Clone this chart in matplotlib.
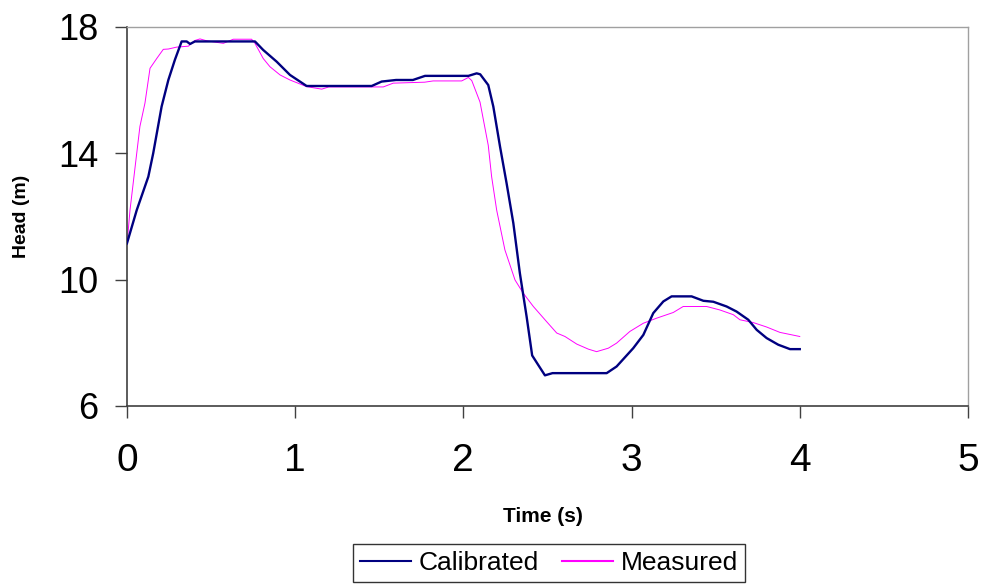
import numpy as np
import matplotlib.pyplot as plt

plt.rcParams['font.family'] = ['Liberation Sans', 'DejaVu Sans']

# Dane
calib_t = [0.0, 0.058, 0.127, 0.156, 0.206, 0.246, 0.285, 0.325, 0.355, 0.375, 0.404,
           0.761, 0.81, 0.89, 0.969, 1.068, 1.455, 1.514, 1.60, 1.70, 1.772, 2.03,
           2.079, 2.10, 2.148, 2.178, 2.218, 2.257, 2.297, 2.336, 2.376, 2.409,
           2.445, 2.485, 2.53, 2.852, 2.911, 3.01, 3.07, 3.129, 3.189, 3.238,
           3.357, 3.427, 3.486, 3.565, 3.624, 3.694, 3.744, 3.803, 3.872, 3.942, 4.0]
calib_h = [11.15, 12.2, 13.26, 14.0, 15.48, 16.32, 16.96, 17.54, 17.54, 17.46, 17.54,
           17.54, 17.27, 16.9, 16.48, 16.13, 16.13, 16.27, 16.32, 16.32, 16.45, 16.45,
           16.53, 16.5, 16.16, 15.48, 14.21, 13.05, 11.79, 10.2, 8.83, 7.6,
           7.30, 6.97, 7.04, 7.04, 7.25, 7.83, 8.25, 8.94, 9.31, 9.47,
           9.47, 9.33, 9.3, 9.15, 8.99, 8.73, 8.41, 8.15, 7.94, 7.80, 7.80]

meas_t = [0.0, 0.018, 0.058, 0.077, 0.107, 0.137, 0.177, 0.216, 0.246, 0.295, 0.365,
          0.404, 0.434, 0.474, 0.523, 0.573, 0.632, 0.741, 0.761, 0.81, 0.85, 0.91,
          0.969, 1.068, 1.158, 1.2, 1.524, 1.583, 1.77, 1.82, 1.99, 2.03, 2.05,
          2.099, 2.148, 2.168, 2.198, 2.247, 2.307, 2.356, 2.416, 2.495, 2.555,
          2.604, 2.674, 2.743, 2.792, 2.862, 2.911, 2.99, 3.07, 3.149, 3.248,
          3.307, 3.446, 3.525, 3.605, 3.644, 3.724, 3.803, 3.882, 4.0]
meas_h = [11.1, 12.2, 14.0, 14.85, 15.59, 16.69, 17.0, 17.29, 17.3, 17.36, 17.39,
          17.57, 17.62, 17.56, 17.52, 17.48, 17.61, 17.61, 17.48, 17.0, 16.74, 16.48,
          16.32, 16.11, 16.03, 16.1, 16.1, 16.22, 16.25, 16.29, 16.29, 16.4, 16.3,
          15.62, 14.25, 13.26, 12.2, 10.94, 9.99, 9.57, 9.15, 8.67, 8.31,
          8.2, 7.96, 7.8, 7.72, 7.83, 7.99, 8.36, 8.62, 8.78, 8.96,
          9.15, 9.15, 9.04, 8.89, 8.73, 8.64, 8.5, 8.33, 8.2]

x_ticks = [0, 1, 2, 3, 4, 5]
y_ticks = [6, 10, 14, 18]

fig = plt.figure(figsize=(9.82, 5.85), dpi=100)
ax = fig.add_axes([0.1293, 0.306, 0.8564, 0.648])

ax.plot(calib_t, calib_h, color='#000080', lw=1.7, label='Calibrated', zorder=3)
ax.plot(meas_t, meas_h, color='#FF00FF', lw=0.7, label='Measured', zorder=2)

ax.set_xlim(0, 5)
ax.set_ylim(6, 18)
ax.set_xticks(x_ticks)
ax.set_yticks(y_ticks)
ax.tick_params(axis='both', direction='out', length=8.5, width=1, color='#404040')
ax.tick_params(axis='x', pad=18, labelsize=28)
ax.tick_params(axis='y', pad=12, labelsize=26)

for s in ['left', 'bottom']:
    ax.spines[s].set_color('#404040')
    ax.spines[s].set_linewidth(1.2)
for s in ['top', 'right']:
    ax.spines[s].set_color('#a0a0a0')
    ax.spines[s].set_linewidth(1.0)

fig.text(543 / 982, 1 - 517 / 585, 'Time (s)', fontsize=15, fontweight='bold',
         ha='center', va='center')
fig.text(21 / 982, 1 - 216 / 585, 'Head (m)', fontsize=14, fontweight='bold',
         ha='center', va='center', rotation=90)

leg = fig.legend(loc='center', bbox_to_anchor=(549 / 982, 1 - 563 / 585), ncol=2,
                 fontsize=19, frameon=True, fancybox=False, edgecolor='black',
                 handlelength=1.93, handletextpad=0.3, columnspacing=0.87,
                 borderpad=0.27)
leg.get_frame().set_linewidth(1.0)
for line in leg.get_lines():
    line.set_linewidth(1.5)

fig.savefig('out.png', dpi=100)
